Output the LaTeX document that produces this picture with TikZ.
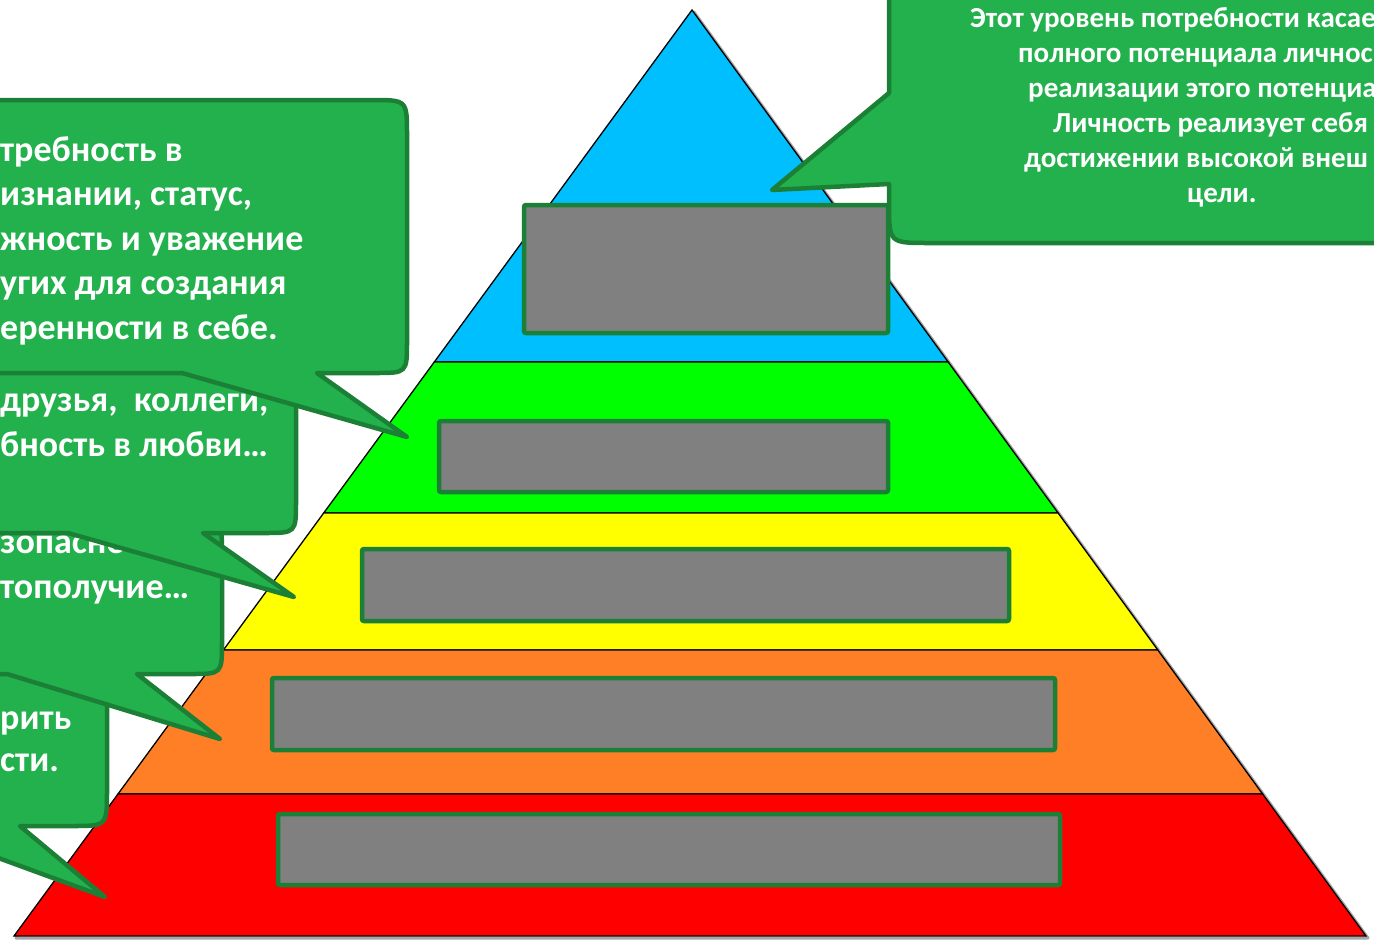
\documentclass[tikz,border=0pt]{standalone}
\usepackage{fontspec}
\setmainfont{Carlito}
\definecolor{cgreen}{HTML}{22B14C}
\definecolor{cdark}{HTML}{1B8036}
\definecolor{bgray}{HTML}{808080}
\definecolor{lblue}{HTML}{00BFFF}
\definecolor{lgreen}{HTML}{00FF00}
\definecolor{lyellow}{HTML}{FFFF00}
\definecolor{lorange}{HTML}{FF7F27}
\definecolor{lred}{HTML}{FF0000}
\begin{document}
\begin{tikzpicture}[x=1pt,y=-1pt,
  layer/.style={draw=black, line width=1.3pt, line join=miter},
  graybox/.style={draw=cdark, line width=4.5pt, fill=bgray, rounded corners=2pt, inner sep=0pt},
  callout/.style={draw=cdark, line width=4.5pt, fill=cgreen, line join=round},
  ctext/.style={text=white, font=\bfseries\fontsize{36}{44.5}\selectfont, align=left, inner sep=0pt, anchor=base west},
  ttext/.style={text=white, font=\bfseries\fontsize{29}{35}\selectfont, inner sep=0pt, anchor=base west}]
\clip (0,0) rectangle (1374,945);
\fill[white] (0,0) rectangle (1374,945);
% pyramid shadow
\draw[black!35, line width=3pt, line join=round] (694,12) -- (1368,938) -- (16,938) -- cycle;
% pyramid layers
\draw[layer, fill=lblue] (692,10) -- (948.2,362) -- (434.3,362) -- cycle;
\draw[layer, fill=lgreen] (434.3,362) -- (948.2,362) -- (1058.1,513) -- (323.7,513) -- cycle;
\draw[layer, fill=lyellow] (323.7,513) -- (1058.1,513) -- (1157.8,650) -- (223.4,650) -- cycle;
\draw[layer, fill=lorange] (223.4,650) -- (1157.8,650) -- (1262.6,794) -- (118,794) -- cycle;
\draw[layer, fill=lred] (118,794) -- (1262.6,794) -- (1366,936) -- (14,936) -- cycle;
% gray boxes
\node[graybox, minimum width=364pt, minimum height=128pt] (r1) at (706,269) {};
\node[graybox, minimum width=449pt, minimum height=71pt] (r2) at (663.5,456.5) {};
\node[graybox, minimum width=647pt, minimum height=72pt] (r3) at (685.5,585) {};
\node[graybox, minimum width=783pt, minimum height=72pt] (r4) at (663.5,714) {};
\node[graybox, minimum width=782pt, minimum height=71pt] (r5) at (669,849.5) {};
% pointer tips
\coordinate (tipD) at (105,897);
\coordinate (tipC) at (220,739);
\coordinate (tipB) at (294,597);
\coordinate (tipA) at (407,437);
\coordinate (tipE) at (772,190);
% callout D
\draw[callout] (-200,660) -- (72,660) .. controls (107,660) .. (107,695) -- (107,791)
  .. controls (107,826) .. (72,826) -- (20,826) -- (tipD) -- (-89,826) -- (-200,826) -- cycle;
\node[ctext] (tD) at (0,771) {рить\\[-2.5pt]сти.};
% callout C
\draw[callout] (-200,520) -- (187,520) .. controls (222,520) .. (222,555) -- (222,642)
  .. controls (222,674) .. (190,674) -- (137,674) -- (tipC) -- (7,674) -- (-200,674) -- cycle;
\node[ctext] (tC) at (0,598) {зопасно\\тополучие…};
% callout B
\draw[callout] (-200,360) -- (261,360) .. controls (296,360) .. (296,395) -- (296,501)
  .. controls (296,533) .. (264,533) -- (203,533) -- (tipB) -- (68,533) -- (-200,533) -- cycle;
\node[ctext] (tB) at (0,456) {друзья,~~коллеги,\\бность в любви…};
% callout A
\draw[callout] (-200,100) -- (372,100) .. controls (407,100) .. (407,135) -- (407,341)
  .. controls (407,373) .. (375,373) -- (317,373) -- (tipA) -- (182,373) -- (-200,373) -- cycle;
\node[ctext] (tA) at (0,339) {требность в\\изнании, статус,\\жность и уважение\\угих для создания\\еренности в себе.};
% callout E
\draw[callout] (1500,-100) -- (889,-100) -- (889,93) -- (tipE) -- (889,184) -- (889,203)
  .. controls (889,243) .. (929,243) -- (1500,243) -- cycle;
\node[ttext] (e1) at (970,27) {Этот уровень потребности касае};
\node[ttext] (e2) at (1018,62) {полного потенциала личнос};
\node[ttext] (e3) at (1028,97) {реализации этого потенциа};
\node[ttext] (e4) at (1053,132) {Личность реализует себя};
\node[ttext] (e5) at (1024,167) {достижении высокой внеш};
\node[ttext] (e6) at (1187,202) {цели.};
\end{tikzpicture}
\end{document}
